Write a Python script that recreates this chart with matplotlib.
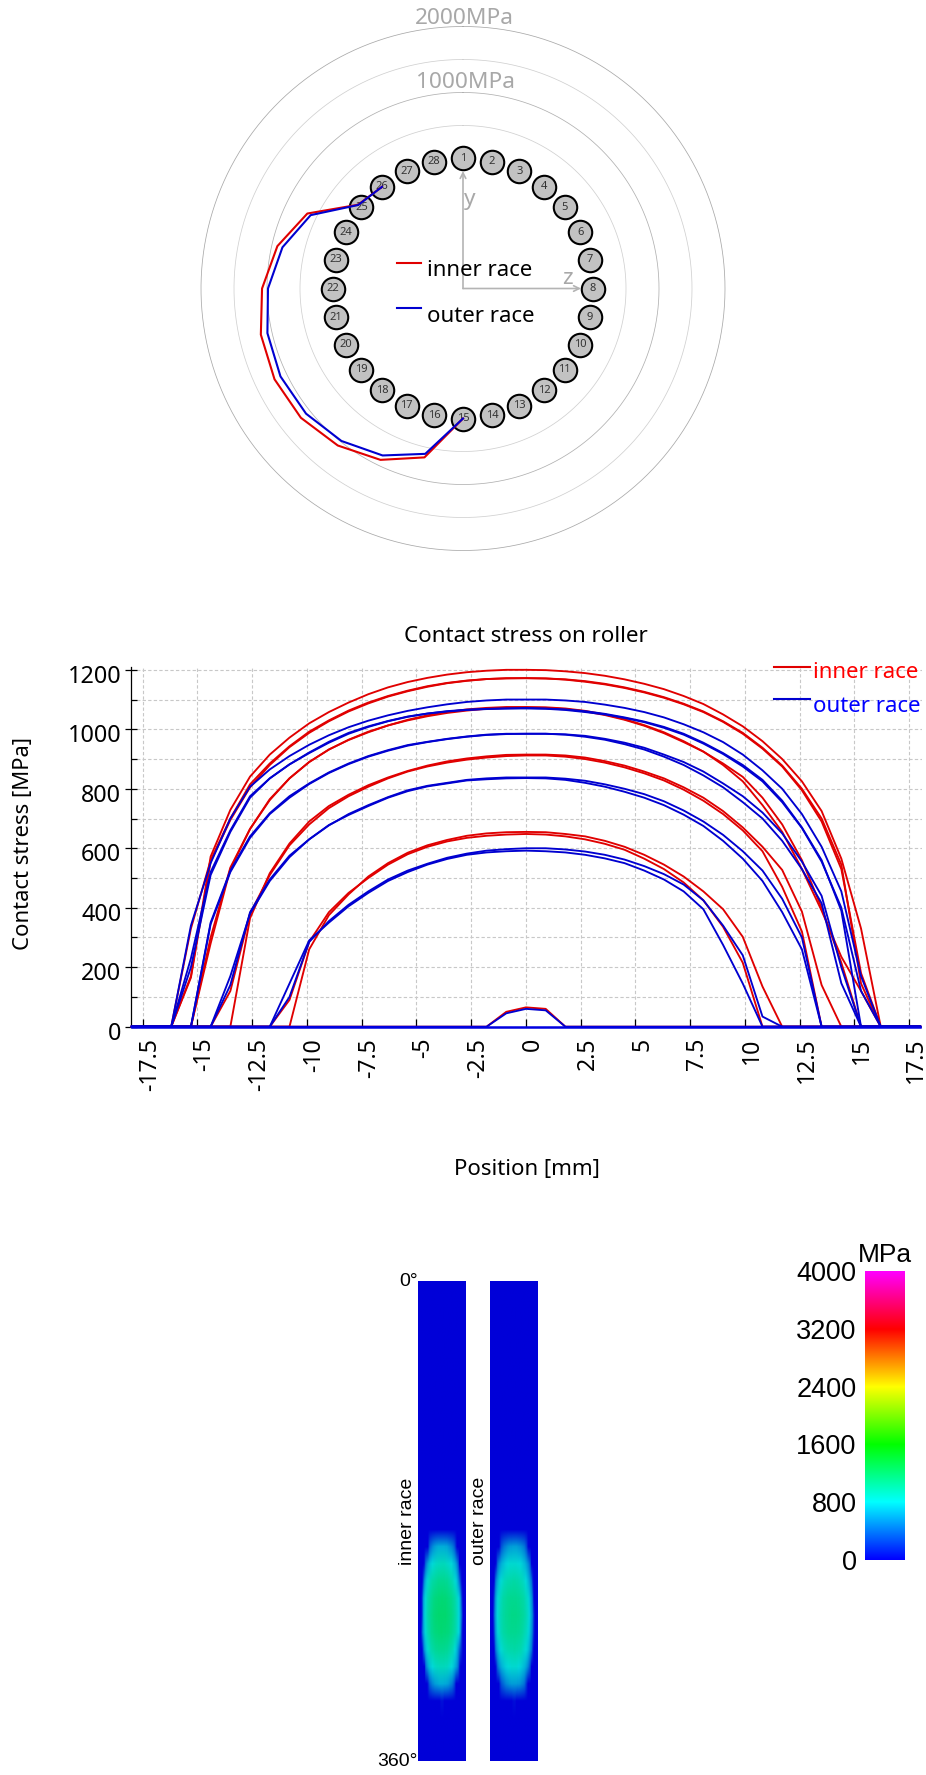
import numpy as np
import matplotlib
matplotlib.use("Agg")
import matplotlib.pyplot as plt
from matplotlib.colors import LinearSegmentedColormap
from matplotlib.ticker import MultipleLocator
from matplotlib.transforms import ScaledTranslation

W, H = 926, 1775
UI_FONT = "Noto Sans"
IMG_FONT = "Liberation Sans"
plt.rcParams["font.family"] = UI_FONT

# Slice positions along the roller (mm); the curves below cover -16.2 .. 16.2
position = [-18.0, -17.1, -16.2, -15.3, -14.4, -13.5, -12.6, -11.7, -10.8, -9.9, -9.0, -8.1, -7.2, -6.3,
            -5.4, -4.5, -3.6, -2.7, -1.8, -0.9, 0.0, 0.9, 1.8, 2.7, 3.6, 4.5, 5.4, 6.3, 7.2, 8.1, 9.0,
            9.9, 10.8, 11.7, 12.6, 13.5, 14.4, 15.3, 16.2, 17.1, 18.0]

# Contact stress (MPa) on the inner race, by roller
inner_16 = [0, 0, 0, 0, 0, 0, 0, 260, 375, 445, 505, 550, 585, 610, 628, 642, 650, 654, 655, 654, 648, 640, 625, 605, 578, 545, 505, 455, 395, 302, 135, 0, 0, 0, 0, 0, 0]
inner_17 = [0, 0, 0, 120, 380, 510, 610, 680, 735, 775, 807, 835, 858, 875, 888, 898, 905, 910, 912, 912, 908, 900, 888, 872, 852, 828, 797, 760, 715, 660, 590, 470, 320, 0, 0, 0, 0]
inner_18 = [0, 0, 280, 530, 665, 765, 835, 890, 932, 965, 992, 1013, 1030, 1044, 1055, 1063, 1069, 1072, 1073, 1072, 1068, 1060, 1048, 1032, 1012, 987, 957, 925, 885, 840, 770, 680, 560, 400, 215, 0, 0]
inner_19 = [0, 165, 555, 695, 805, 880, 940, 988, 1027, 1060, 1087, 1110, 1128, 1143, 1155, 1163, 1169, 1171, 1172, 1171, 1167, 1160, 1151, 1139, 1124, 1106, 1084, 1058, 1025, 985, 935, 875, 795, 690, 530, 180, 0]
inner_20 = [0, 170, 572, 729, 841, 915, 972, 1020, 1058, 1090, 1118, 1141, 1159, 1173, 1184, 1192, 1197, 1200, 1200, 1199, 1195, 1189, 1180, 1168, 1153, 1135, 1112, 1085, 1050, 1010, 960, 900, 825, 725, 565, 330, 0]
inner_21 = [0, 330, 560, 700, 815, 885, 943, 992, 1030, 1063, 1090, 1112, 1130, 1145, 1156, 1164, 1169, 1172, 1172, 1171, 1168, 1162, 1153, 1141, 1126, 1108, 1086, 1060, 1027, 988, 938, 878, 800, 700, 545, 145, 0]
inner_22 = [0, 0, 300, 535, 665, 762, 835, 890, 932, 964, 990, 1013, 1032, 1047, 1058, 1067, 1072, 1075, 1075, 1074, 1070, 1062, 1050, 1034, 1014, 990, 960, 925, 880, 825, 745, 655, 530, 390, 235, 120, 0]
inner_23 = [0, 0, 0, 0, 365, 516, 616, 690, 742, 780, 812, 838, 860, 878, 892, 902, 909, 914, 915, 915, 912, 905, 893, 878, 858, 835, 805, 770, 725, 670, 605, 527, 387, 140, 0, 0, 0]
inner_24 = [0, 0, 0, 0, 0, 0, 90, 285, 385, 450, 500, 545, 580, 605, 623, 635, 642, 646, 648, 646, 640, 630, 615, 595, 565, 530, 485, 425, 336, 215, 0, 0, 0, 0, 0, 0, 0]
inner_25 = [0, 0, 0, 0, 0, 0, 0, 0, 0, 0, 0, 0, 0, 0, 0, 0, 0, 50, 65, 60, 0, 0, 0, 0, 0, 0, 0, 0, 0, 0, 0, 0, 0, 0, 0, 0, 0]

# Contact stress (MPa) on the outer race, by roller
outer_16 = [0, 0, 0, 0, 0, 0, 100, 285, 355, 410, 455, 495, 525, 548, 568, 582, 592, 597, 600, 600, 596, 589, 578, 562, 540, 513, 478, 425, 340, 240, 34, 0, 0, 0, 0, 0, 0]
outer_17 = [0, 0, 0, 140, 385, 495, 575, 630, 677, 715, 745, 772, 795, 810, 820, 830, 835, 838, 838, 838, 834, 827, 815, 800, 782, 758, 727, 690, 645, 590, 525, 430, 300, 0, 0, 0, 0]
outer_18 = [0, 0, 350, 525, 640, 718, 775, 818, 855, 885, 910, 930, 947, 958, 968, 976, 982, 985, 985, 985, 982, 975, 965, 950, 932, 908, 880, 845, 805, 755, 700, 625, 530, 415, 146, 0, 0]
outer_19 = [0, 230, 520, 660, 775, 835, 882, 920, 955, 985, 1008, 1027, 1042, 1053, 1061, 1066, 1069, 1070, 1072, 1070, 1067, 1061, 1052, 1040, 1026, 1008, 985, 955, 920, 880, 830, 760, 670, 560, 390, 0, 0]
outer_20 = [0, 340, 550, 700, 807, 865, 910, 948, 980, 1007, 1029, 1047, 1062, 1074, 1084, 1092, 1097, 1100, 1100, 1100, 1097, 1092, 1083, 1072, 1058, 1040, 1017, 990, 957, 915, 862, 800, 715, 605, 455, 170, 0]
outer_21 = [0, 200, 510, 655, 770, 835, 882, 922, 958, 988, 1010, 1028, 1043, 1053, 1060, 1065, 1068, 1070, 1070, 1069, 1065, 1058, 1050, 1038, 1024, 1005, 982, 952, 917, 875, 825, 755, 668, 555, 400, 120, 0]
outer_22 = [0, 0, 345, 520, 635, 715, 770, 816, 853, 883, 908, 928, 945, 957, 967, 975, 981, 984, 985, 985, 983, 978, 968, 955, 938, 915, 890, 858, 818, 775, 720, 650, 555, 440, 200, 0, 0]
outer_23 = [0, 0, 0, 170, 380, 490, 570, 630, 678, 712, 742, 770, 792, 808, 818, 828, 832, 835, 836, 835, 830, 820, 807, 790, 770, 745, 713, 675, 625, 565, 490, 385, 260, 0, 0, 0, 0]
outer_24 = [0, 0, 0, 0, 0, 0, 145, 290, 350, 405, 450, 490, 520, 545, 564, 578, 586, 590, 592, 590, 586, 578, 566, 550, 525, 495, 455, 395, 275, 145, 0, 0, 0, 0, 0, 0, 0]
outer_25 = [0, 0, 0, 0, 0, 0, 0, 0, 0, 0, 0, 0, 0, 0, 0, 0, 0, 45, 60, 55, 0, 0, 0, 0, 0, 0, 0, 0, 0, 0, 0, 0, 0, 0, 0, 0, 0]

loaded_rollers = [16, 17, 18, 19, 20, 21, 22, 23, 24, 25]
inner_curves = [inner_16, inner_17, inner_18, inner_19, inner_20, inner_21, inner_22, inner_23, inner_24, inner_25]
outer_curves = [outer_16, outer_17, outer_18, outer_19, outer_20, outer_21, outer_22, outer_23, outer_24, outer_25]
roller_ids = list(range(1, 29))

x_ticks = [-17.5, -15, -12.5, -10, -7.5, -5, -2.5, 0, 2.5, 5, 7.5, 10, 12.5, 15, 17.5]
x_tick_labels = ["-17.5", "-15", "-12.5", "-10", "-7.5", "-5", "-2.5", "0", "2.5", "5", "7.5", "10", "12.5", "15", "17.5"]
y_ticks = [0, 200, 400, 600, 800, 1000, 1200]
scale_ticks = [0, 800, 1600, 2400, 3200, 4000]
ring_values = [500, 1000, 1500, 2000]
ring_colors = ["#d0d0d0", "#b0b0b0", "#d0d0d0", "#a8a8a8"]

RED = "#e00000"
BLUE = "#0000d0"
GREY = "#a8a8a8"


def padded(curve):
    return np.concatenate([[0, 0], curve, [0, 0]])


def load_by_roller(curves):
    load = np.zeros(len(roller_ids))
    for rid, c in zip(loaded_rollers, curves):
        load[rid - 1] = max(c)
    return load


def grid_by_roller(curves):
    # Row i of the map holds roller i; row 0 is the start of the revolution
    grid = np.zeros((len(roller_ids) + 1, len(position)))
    for rid, c in zip(loaded_rollers, curves):
        grid[rid] = padded(c)
    return grid


def axes_px(fig, x0, y0, x1, y1, **kw):
    return fig.add_axes([x0 / W, 1 - y1 / H, (x1 - x0) / W, (y1 - y0) / H], **kw)


fig = plt.figure(figsize=(W / 100, H / 100), dpi=100, facecolor="white")

# ---------- Polar load plot ----------
cx, cy, R = 463.0, 288.5, 262.0
pol = axes_px(fig, cx - R, cy - R, cx + R, cy + R, projection="polar")
pol.set_theta_zero_location("N")
pol.set_theta_direction(-1)
pol.set_rorigin(-1970)
pol.set_rlim(0, 2000)
pol.set_axis_off()
circ = np.linspace(0, 2 * np.pi, 400)
for rv, rc in zip(ring_values, ring_colors):
    pol.plot(circ, np.full_like(circ, rv), color=rc, lw=0.55, zorder=1, clip_on=False)
theta = np.deg2rad((np.array(roller_ids) - 1) * 360 / 28)
pol.scatter(theta, np.zeros_like(theta), s=285, facecolor="#c2c2c2", edgecolor="black", linewidth=1.5,
            zorder=3, clip_on=False)
for t, rid in zip(theta, roller_ids):
    pol.text(t, 0, str(rid), ha="center", va="center", fontsize=8, color="#333333", zorder=4)
span = slice(14, 26)
pol.plot(theta[span], load_by_roller(inner_curves)[span], color=RED, lw=1.5, zorder=5, clip_on=False)
pol.plot(theta[span], load_by_roller(outer_curves)[span], color=BLUE, lw=1.5, zorder=6, clip_on=False)
pol.set_rlim(0, 2000)

# ---------- Contact stress curves ----------
ax = axes_px(fig, 130.7, 667.3, 921.7, 1026.7)
ax.set_xlim(-18.05, 18.07)
ax.set_ylim(0, 1208.5)
for c in inner_curves:
    ax.plot(position, padded(c), color=RED, lw=1.35, zorder=3, clip_on=False)
for c in outer_curves:
    ax.plot(position, padded(c), color=BLUE, lw=1.35, zorder=4, clip_on=False)
ax.plot(position, np.zeros(len(position)), color="#0000e0", lw=1.8, zorder=5, clip_on=False)
for s in ["top", "right", "bottom"]:
    ax.spines[s].set_visible(False)
ax.spines["left"].set_linewidth(0.9)
ax.set_xticks(x_ticks)
ax.set_xticklabels(x_tick_labels, rotation=90, fontsize=16.6, va="top", ha="center")
ax.set_yticks(y_ticks)
ax.yaxis.set_minor_locator(MultipleLocator(100))
ax.tick_params(axis="x", which="major", direction="in", length=5.5, width=0.9, pad=8)
ax.tick_params(axis="y", which="major", direction="inout", length=8.5, width=0.9, pad=2.5, labelsize=16.8)
ax.tick_params(axis="y", which="minor", direction="in", length=4.5, width=0.9)
ax.grid(True, which="major", axis="both", color="#c8c8c8", lw=0.8, ls=(0, (3, 2)))
ax.grid(True, which="minor", axis="y", color="#c8c8c8", lw=0.8, ls=(0, (3, 2)))
ax.set_axisbelow(True)
x_shift = ScaledTranslation(7 / 100, 0, fig.dpi_scale_trans)
for lab in ax.get_xticklabels():
    lab.set_transform(lab.get_transform() + x_shift)
y_shift = ScaledTranslation(0, -4 / 100, fig.dpi_scale_trans)
for lab in ax.get_yticklabels():
    lab.set_transform(lab.get_transform() + y_shift)

# ---------- Roller surface maps ----------
pal = LinearSegmentedColormap.from_list(
    "stress",
    [(0, "#0000d8"), (0.2, "#00d8d8"), (0.4, "#00d800"), (0.6, "#d8d800"), (0.8, "#d80000"), (1, "#d800d8")])
step = 360 / 28
for curves, x0, x1 in [(inner_curves, 418, 465.5), (outer_curves, 490, 538)]:
    m = axes_px(fig, x0, 1281, x1, 1761)
    m.imshow(grid_by_roller(curves), cmap=pal, vmin=0, vmax=4000, aspect="auto", interpolation="bilinear",
             extent=[position[0] - 0.45, position[-1] + 0.45, 360, -step])
    m.set_ylim(360, 0)
    m.axis("off")

cb = axes_px(fig, 865, 1271, 904.5, 1560)
levels = np.linspace(4000, 0, 512).reshape(-1, 1)
cb_pal = LinearSegmentedColormap.from_list(
    "scale", ["#0000ff", "#00ffff", "#00ff00", "#ffff00", "#ff0000", "#ff00ff"])
cb.imshow(levels, cmap=cb_pal, vmin=0, vmax=4000, aspect="auto", extent=[0, 1, 0, 4000])
cb.set_xticks([])
cb.yaxis.tick_left()
cb.set_yticks(scale_ticks)
cb.set_yticklabels([str(v) for v in scale_ticks], fontfamily=IMG_FONT, fontsize=19.5)
cb.tick_params(axis="y", length=0, pad=6)
for s in cb.spines.values():
    s.set_visible(False)

# ---------- Overlay (text placed in pixels) ----------
ov = fig.add_axes([0, 0, 1, 1], zorder=10)
ov.set_xlim(0, W)
ov.set_ylim(H, 0)
ov.axis("off")
ov.patch.set_alpha(0)

ov.text(464, 18, "2000MPa", ha="center", va="center", fontsize=16.3, color=GREY)
ov.text(465, 83, "1000MPa", ha="center", va="center", fontsize=16.3, color=GREY)
arrow = dict(arrowstyle="->", color="#b4b4b4", lw=1.2, shrinkA=0, shrinkB=0)
ov.annotate("", xy=(cx, 171), xytext=(cx, cy), arrowprops=arrow)
ov.annotate("", xy=(581, cy), xytext=(cx, cy), arrowprops=arrow)
ov.text(470, 199, "y", ha="center", va="center", fontsize=16.3, color=GREY)
ov.text(567, 279, "z", ha="center", va="center", fontsize=16.3, color=GREY)

ov.plot([397, 421], [263, 263], color=RED, lw=1.5)
ov.plot([397, 421], [308, 308], color=BLUE, lw=1.5)
ov.text(427, 271, "inner race", ha="left", va="center", fontsize=16, color="black")
ov.text(427, 316, "outer race", ha="left", va="center", fontsize=16, color="black")

ov.text(526, 637, "Contact stress on roller", ha="center", va="center", fontsize=16.1, color="black")
ov.text(527, 1170, "Position [mm]", ha="center", va="center", fontsize=16, color="black")
ov.text(24, 844, "Contact stress [MPa]", ha="center", va="center", rotation=90, fontsize=15.9, color="black")

ov.plot([774, 810], [667, 667], color=RED, lw=1.5)
ov.plot([774, 810], [699, 699], color=BLUE, lw=1.5)
ov.text(813, 673, "inner race", ha="left", va="center", fontsize=16, color="#ff0000")
ov.text(813, 706, "outer race", ha="left", va="center", fontsize=16, color="#0000ff")

ov.text(418, 1281, "0°", ha="right", va="center", family=IMG_FONT, fontsize=14, color="black")
ov.text(418, 1762, "360°", ha="right", va="center", family=IMG_FONT, fontsize=14, color="black")
ov.text(408, 1565, "inner race", ha="center", va="bottom", rotation=90, family=IMG_FONT, fontsize=14, color="black")
ov.text(480, 1565, "outer race", ha="center", va="bottom", rotation=90, family=IMG_FONT, fontsize=14, color="black")
ov.text(885, 1255, "MPa", ha="center", va="center", family=IMG_FONT, fontsize=19, color="black")

fig.savefig("out.png", dpi=100, facecolor="white")
